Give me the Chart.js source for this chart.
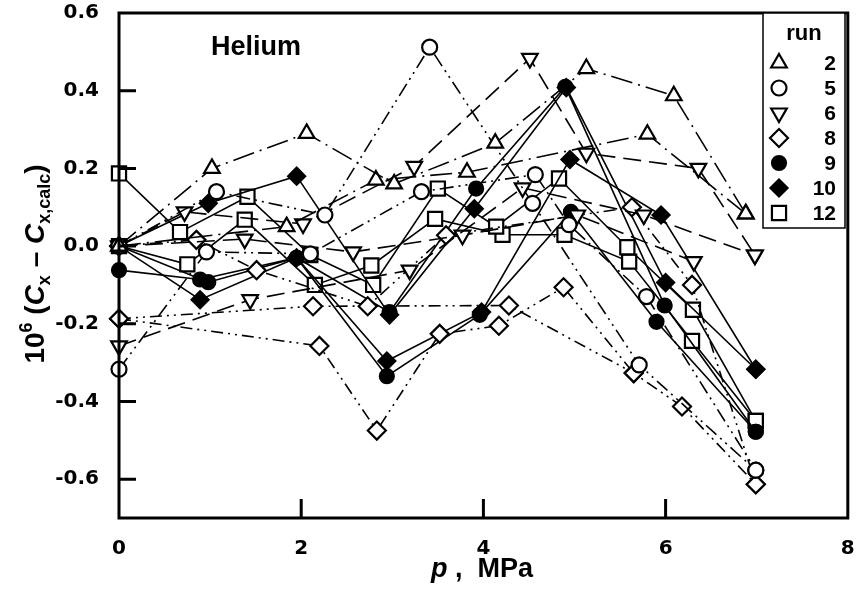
<!DOCTYPE html>
<html>
<head>
<meta charset="utf-8">
<script src="https://cdn.jsdelivr.net/npm/chart.js@4.4.0/dist/chart.umd.min.js"></script>
<style>
  html, body { margin: 0; padding: 0; background: #fff; }
  #wrap { width: 860px; height: 594px; }
</style>
</head>
<body>
<div id="wrap"><canvas id="heliumChart" width="860" height="594"></canvas></div>
<script>
// pressure (MPa) and deviation (10^6 C) for every sweep of each run
const run2aP = [0, 1.02, 2.06, 3.02, 4.13, 5.13, 6.09, 6.88];
const run2aC = [0.00, 0.20, 0.29, 0.16, 0.265, 0.457, 0.387, 0.083];
const run2bP = [0, 1.84, 2.82, 3.82, 5.80, 6.88];
const run2bC = [0.00, 0.05, 0.17, 0.19, 0.288, 0.083];

const run5aP = [0, 1.07, 2.26, 3.41, 4.54, 5.71, 6.99];
const run5aC = [0.00, 0.14, 0.08, 0.512, 0.11, -0.306, -0.577];
const run5bP = [0, 0.96, 2.10, 3.32, 4.57, 4.94, 5.79, 6.99];
const run5bC = [-0.317, -0.015, -0.02, 0.14, 0.184, 0.055, -0.13, -0.577];

const run6aP = [0, 0.72, 2.02, 3.24, 4.51, 5.13, 6.36, 6.98];
const run6aC = [0.00, 0.088, 0.057, 0.205, 0.483, 0.239, 0.20, -0.023];
const run6bP = [0, 1.44, 3.19, 4.43, 5.76, 6.98];
const run6bC = [-0.257, -0.138, -0.062, 0.15, 0.08, -0.023];
const run6cP = [0, 1.38, 2.57, 3.77, 5.03, 6.31];
const run6cC = [0.00, 0.018, -0.015, 0.028, 0.08, -0.04];

const run8aP = [0, 2.20, 2.83, 3.52, 4.17, 4.88, 5.65, 6.18, 6.99];
const run8aC = [-0.187, -0.257, -0.475, -0.226, -0.205, -0.106, -0.327, -0.413, -0.613];
const run8bP = [0, 0.85, 1.51, 2.73, 3.59, 5.63, 6.29, 6.99];
const run8bC = [0.00, 0.016, -0.062, -0.155, 0.028, 0.10, -0.10, -0.613];
const run8cP = [0, 2.13, 4.28, 5.65];
const run8cC = [-0.187, -0.155, -0.153, -0.327];

const run9aP = [0, 0.98, 1.95, 2.97, 3.92, 4.90, 5.99, 6.99];
const run9aC = [0.00, -0.093, -0.03, -0.17, 0.148, 0.41, -0.153, -0.478];
const run9bP = [0, 0.89, 1.95, 2.94, 3.96, 4.96, 5.90, 6.99];
const run9bC = [-0.062, -0.086, -0.03, -0.335, -0.177, 0.088, -0.195, -0.478];

const run10aP = [0, 0.98, 1.95, 2.97, 3.90, 4.91, 6.00, 6.99];
const run10aC = [0.00, 0.11, 0.18, -0.177, 0.096, 0.408, -0.094, -0.317];
const run10bP = [0, 0.89, 1.95, 2.94, 3.98, 4.95, 5.95, 6.99];
const run10bC = [0.00, -0.138, -0.03, -0.296, -0.17, 0.223, 0.08, -0.317];

const run12aP = [0, 0.67, 1.41, 2.10, 2.79, 3.50, 4.14, 4.83, 5.58, 6.30, 6.99];
const run12aC = [0.187, 0.036, 0.127, -0.023, -0.10, 0.148, 0.05, 0.174, -0.003, -0.164, -0.45];
const run12bP = [0, 0.75, 1.38, 2.15, 2.77, 3.47, 4.21, 4.89, 5.60, 6.29, 6.99];
const run12bC = [0.00, -0.047, 0.068, -0.10, -0.05, 0.07, 0.029, 0.029, -0.04, -0.244, -0.45];

const runLabels = ['2', '5', '6', '8', '9', '10', '12'];
const xTicks = [0, 2, 4, 6, 8];
const yTicks = [-0.6, -0.4, -0.2, 0.0, 0.2, 0.4, 0.6];

// marker + line look for each run
const runStyle = {
    '2':  { shape: 'triangle', rot: 0,   filled: false, r: 9,   dash: [22, 6, 2, 6] },
    '5':  { shape: 'circle',   rot: 0,   filled: false, r: 7.5, dash: [14, 5, 2, 5, 2, 5] },
    '6':  { shape: 'triangle', rot: 180, filled: false, r: 9,   dash: [18, 8] },
    '8':  { shape: 'rectRot',  rot: 0,   filled: false, r: 9,   dash: [12, 5, 2, 5, 2, 5] },
    '9':  { shape: 'circle',   rot: 0,   filled: true,  r: 7,   dash: [] },
    '10': { shape: 'rectRot',  rot: 0,   filled: true,  r: 8.5, dash: [] },
    '12': { shape: 'rect',     rot: 0,   filled: false, r: 10,  dash: [] }
};

function sweep(run, p, c) {
    const s = runStyle[run];
    return {
        label: run,
        data: p.map((v, i) => ({ x: v, y: c[i] })),
        showLine: true,
        borderColor: '#000',
        borderWidth: 1.6,
        borderDash: s.dash,
        pointStyle: s.shape,
        rotation: s.rot,
        pointRadius: s.r,
        pointBorderWidth: 2.2,
        pointBorderColor: '#000',
        pointBackgroundColor: s.filled ? '#000' : '#fff',
        clip: false
    };
}

const sweeps = [
    sweep('2', run2aP, run2aC), sweep('2', run2bP, run2bC),
    sweep('5', run5aP, run5aC), sweep('5', run5bP, run5bC),
    sweep('6', run6aP, run6aC), sweep('6', run6bP, run6bC), sweep('6', run6cP, run6cC),
    sweep('8', run8aP, run8aC), sweep('8', run8bP, run8bC), sweep('8', run8cP, run8cC),
    sweep('9', run9aP, run9aC), sweep('9', run9bP, run9bC),
    sweep('10', run10aP, run10aC), sweep('10', run10bP, run10bC),
    sweep('12', run12aP, run12aC), sweep('12', run12bP, run12bC)
];

function marker(ctx, s, x, y) {
    ctx.save();
    ctx.lineWidth = 2.2;
    ctx.strokeStyle = '#000';
    ctx.fillStyle = s.filled ? '#000' : '#fff';
    ctx.setLineDash([]);
    ctx.beginPath();
    const r = s.r;
    if (s.shape === 'circle') {
        ctx.arc(x, y, r, 0, Math.PI * 2);
    } else if (s.shape === 'rect') {
        const h = r * Math.SQRT1_2;
        ctx.rect(x - h, y - h, 2 * h, 2 * h);
    } else if (s.shape === 'rectRot') {
        ctx.moveTo(x, y - r); ctx.lineTo(x + r, y); ctx.lineTo(x, y + r); ctx.lineTo(x - r, y); ctx.closePath();
    } else {
        const dir = s.rot === 180 ? -1 : 1;
        const a = r * Math.sqrt(3) / 2;
        ctx.moveTo(x, y - dir * r);
        ctx.lineTo(x + a, y + dir * r / 2);
        ctx.lineTo(x - a, y + dir * r / 2);
        ctx.closePath();
    }
    ctx.fill();
    ctx.stroke();
    ctx.restore();
}

// draws a run of text pieces one after another (for sub/superscripts)
function richText(ctx, parts, x, y, align) {
    let total = 0;
    parts.forEach(p => { ctx.font = p.font; total += ctx.measureText(p.t).width; });
    let cx = align === 'center' ? x - total / 2 : x;
    parts.forEach(p => {
        ctx.font = p.font;
        ctx.fillText(p.t, cx, y + (p.dy || 0));
        cx += ctx.measureText(p.t).width;
    });
}

const framePlugin = {
    id: 'frame',
    afterDraw(chart) {
        const { ctx, chartArea: a, scales } = chart;
        ctx.save();
        ctx.strokeStyle = '#000';
        ctx.setLineDash([]);
        ctx.lineWidth = 3;
        ctx.strokeRect(a.left, a.top, a.right - a.left, a.bottom - a.top);

        // inward ticks
        ctx.beginPath();
        yTicks.forEach(v => {
            if (v >= 0.6) return;
            const py = scales.y.getPixelForValue(v);
            ctx.moveTo(a.left, py); ctx.lineTo(a.left + 17, py);
        });
        xTicks.forEach(v => {
            if (v <= 0 || v >= 8) return;
            const px = scales.x.getPixelForValue(v);
            ctx.moveTo(px, a.bottom); ctx.lineTo(px, a.bottom - 19);
        });
        ctx.stroke();

        // gas label
        ctx.fillStyle = '#000';
        ctx.textBaseline = 'alphabetic';
        ctx.textAlign = 'left';
        ctx.font = 'bold 27px "Liberation Sans", Arial, sans-serif';
        ctx.fillText('Helium', 211, 55);

        // legend box
        const lx = 763, ly = 13, lw = 82, lh = 215;
        ctx.fillStyle = '#fff';
        ctx.fillRect(lx, ly, lw, lh);
        ctx.lineWidth = 1.5;
        ctx.strokeRect(lx, ly, lw, lh);
        ctx.fillStyle = '#000';
        ctx.textAlign = 'center';
        ctx.font = 'bold 22px "Liberation Sans", Arial, sans-serif';
        ctx.fillText('run', 804, 40);
        ctx.textAlign = 'right';
        ctx.textBaseline = 'middle';
        ctx.font = 'bold 21px "Liberation Sans", Arial, sans-serif';
        runLabels.forEach((run, i) => {
            const ry = 63 + i * 25;
            marker(ctx, runStyle[run], 779, ry);
            ctx.fillText(run, 836, ry + 1);
        });

        // axis titles
        ctx.textAlign = 'left';
        ctx.textBaseline = 'alphabetic';
        const big = 'bold 27px "Liberation Sans", Arial, sans-serif';
        const bigIt = 'italic bold 27px "Liberation Sans", Arial, sans-serif';
        const small = 'bold 17px "Liberation Sans", Arial, sans-serif';
        richText(ctx, [
            { t: 'p', font: bigIt },
            { t: ' ,  MPa', font: big }
        ], 431, 577, 'left');

        const yBig = 'bold 28px "Liberation Sans", Arial, sans-serif';
        const yBigIt = 'italic bold 28px "Liberation Sans", Arial, sans-serif';
        const ySmall = 'bold 18px "Liberation Sans", Arial, sans-serif';
        ctx.translate(44, 264);
        ctx.rotate(-Math.PI / 2);
        richText(ctx, [
            { t: '10', font: yBig },
            { t: '6', font: ySmall, dy: -12 },
            { t: ' (', font: yBig },
            { t: 'C', font: yBigIt },
            { t: 'x', font: ySmall, dy: 6 },
            { t: ' \u2013 ', font: yBig },
            { t: 'C', font: yBigIt },
            { t: 'x,calc', font: ySmall, dy: 6 },
            { t: ')', font: yBig }
        ], 0, 0, 'center');
        ctx.restore();
    }
};

const tickFont = { family: '"DejaVu Sans", sans-serif', size: 20, weight: 'bold' };

new Chart(document.getElementById('heliumChart').getContext('2d'), {
    type: 'scatter',
    data: { datasets: sweeps },
    options: {
        responsive: false,
        animation: false,
        devicePixelRatio: 1,
        layout: { padding: { top: 13, right: 11, left: 0, bottom: 0 } },
        plugins: {
            legend: { display: false },
            tooltip: { enabled: false }
        },
        scales: {
            x: {
                type: 'linear',
                min: 0,
                max: 8,
                grid: { display: false },
                border: { display: false },
                afterBuildTicks: s => { s.ticks = xTicks.map(v => ({ value: v })); },
                afterFit: s => { s.height = 76; s.paddingLeft = 0; s.paddingRight = 0; },
                ticks: { color: '#000', font: tickFont, padding: 11, maxRotation: 0, callback: v => String(v) }
            },
            y: {
                type: 'linear',
                min: -0.7,
                max: 0.6,
                grid: { display: false },
                border: { display: false },
                afterBuildTicks: s => { s.ticks = yTicks.map(v => ({ value: v })); },
                afterFit: s => { s.width = 119; s.paddingTop = 0; s.paddingBottom = 0; },
                ticks: { color: '#000', font: tickFont, padding: 12, callback: v => Number(v).toFixed(1) }
            }
        }
    },
    plugins: [framePlugin]
});
</script>
</body>
</html>
